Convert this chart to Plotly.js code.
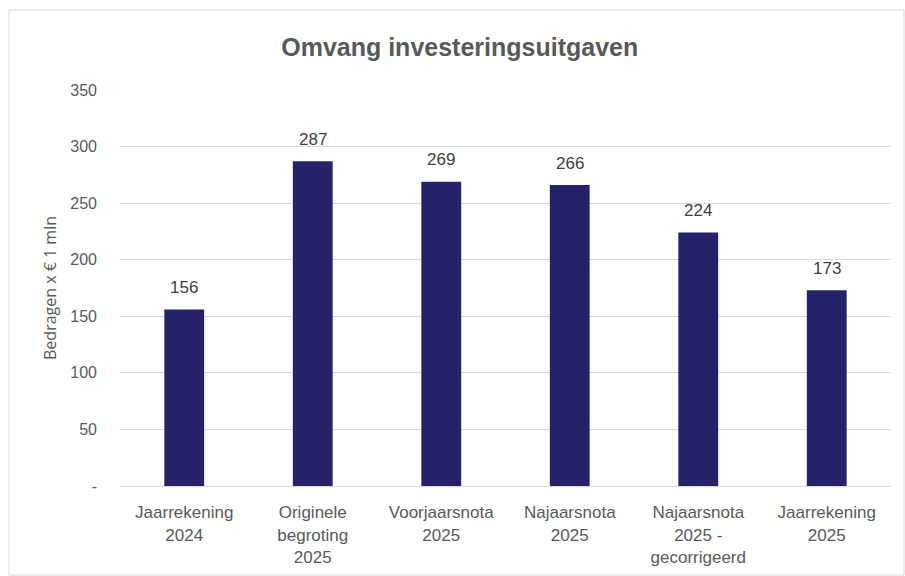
<!DOCTYPE html>
<html>
<head>
<meta charset="utf-8">
<script src="https://cdn.plot.ly/plotly-3.0.1.min.js"></script>
<style>
html,body{margin:0;padding:0;background:#fff;}
#chart{width:905px;height:576px;}
</style>
</head>
<body>
<div id="chart"></div>
<script>
const categories = ["Jaarrekening<br>2024", "Originele<br>begroting<br>2025", "Voorjaarsnota<br>2025", "Najaarsnota<br>2025", "Najaarsnota<br>2025 -<br>gecorrigeerd", "Jaarrekening<br>2025"];
const values = [156, 287, 269, 266, 224, 173];
const yTickVals = [0, 50, 100, 150, 200, 250, 300, 350];
const yTickText = ["-", "50", "100", "150", "200", "250", "300", "350"];

const L = 120, R = 891, T = 90, B = 486;
const W = R - L, H = B - T;
const px = x => (x - L) / W;
const py = y => (B - y) / H;

const trace = {
  type: "bar",
  x: categories,
  y: values,
  marker: {color: "#25226A"},
  hoverinfo: "none"
};

const labelAnnotations = categories.map((c, i) => ({
  x: c, y: values[i], xref: "x", yref: "y",
  text: String(values[i]),
  showarrow: false,
  yanchor: "middle",
  yshift: 22,
  font: {family: "Liberation Sans, Arial, sans-serif", size: 17, color: "#404040"}
}));

const layout = {
  width: 905, height: 576,
  margin: {l: L, r: 905 - R, t: T, b: 576 - B},
  paper_bgcolor: "#ffffff",
  plot_bgcolor: "#ffffff",
  showlegend: false,
  bargap: 0.69,
  title: {
    text: "<b>Omvang investeringsuitgaven</b>",
    font: {family: "Liberation Sans, Arial, sans-serif", size: 25, color: "#595959"},
    x: 0.508, xanchor: "center", y: 0.918, yanchor: "middle"
  },
  xaxis: {
    type: "category",
    tickfont: {family: "Liberation Sans, Arial, sans-serif", size: 17, color: "#595959"},
    showgrid: false,
    showline: true,
    linecolor: "#d9d9d9",
    linewidth: 1,
    ticks: "",
    ticklabelstandoff: 11,
    fixedrange: true
  },
  yaxis: {
    range: [0, 350],
    tickvals: yTickVals,
    ticktext: yTickText,
    tickfont: {family: "Liberation Sans, Arial, sans-serif", size: 16, color: "#595959"},
    showgrid: true,
    gridcolor: "#d9d9d9",
    gridwidth: 1,
    zeroline: false,
    showline: false,
    ticks: "",
    ticklabelstandoff: 22,
    title: {
      text: "Bedragen x € 1 mln",
      font: {family: "Open Sans, Liberation Sans, sans-serif", size: 16, color: "#595959"},
      standoff: 9
    },
    fixedrange: true
  },
  annotations: labelAnnotations,
  shapes: [{
    type: "rect", xref: "paper", yref: "paper",
    x0: px(9), x1: px(904), y0: py(575), y1: py(10),
    line: {color: "#d9d9d9", width: 1},
    fillcolor: "rgba(0,0,0,0)",
    layer: "below"
  }]
};

Plotly.newPlot("chart", [trace], layout, {displayModeBar: false, staticPlot: true});
</script>
</body>
</html>
